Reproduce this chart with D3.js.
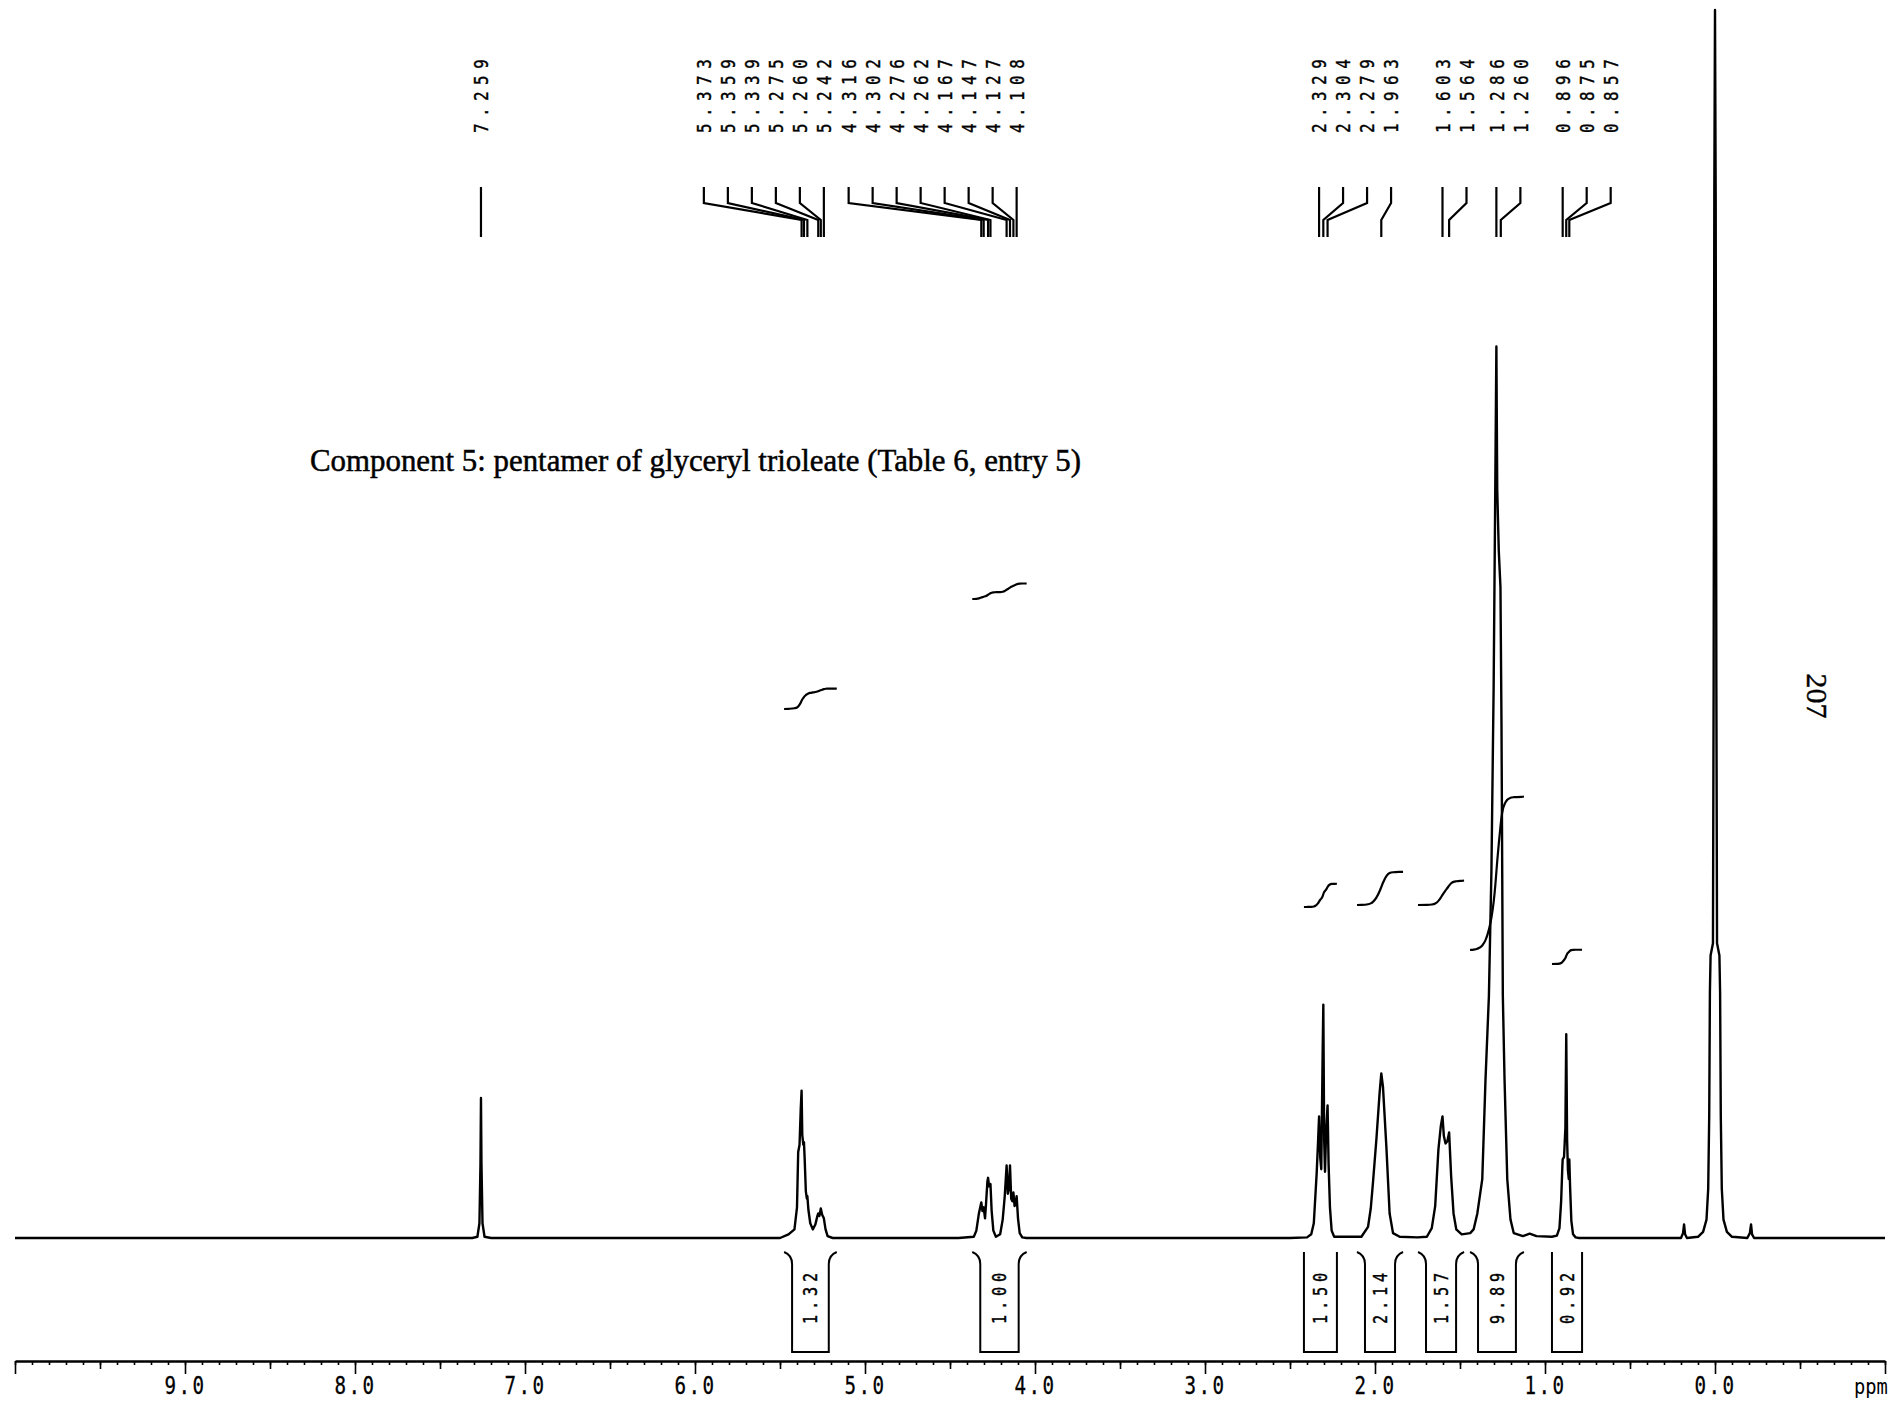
<!DOCTYPE html>
<html>
<head>
<meta charset="utf-8">
<script src="https://cdn.jsdelivr.net/npm/d3@7"></script>
<style>
  html, body { margin: 0; padding: 0; background: #fff; }
  svg { display: block; }
  .mono { font-family: "DejaVu Sans Mono", "Liberation Mono", monospace; fill: #000; }
</style>
</head>
<body>
<svg id="chart" width="1897" height="1402"></svg>
<script>
// 1H NMR spectrum (CDCl3), pentamer of glyceryl trioleate

const title = "Component 5: pentamer of glyceryl trioleate (Table 6, entry 5)";
const pageNumber = "207";
const axisUnit = "ppm";
const axisLabelValues = [9, 8, 7, 6, 5, 4, 3, 2, 1, 0];

// Spectrum trace: [chemical shift (ppm), relative intensity]
const spectrum = [
  [10.0, 0.0], [7.31, 0.0], [7.28, 0.1], [7.268, 1.2], [7.262, 6.0], [7.259, 11.4], [7.256, 6.0], [7.250, 1.2], [7.238, 0.1], [7.20, 0.0],
  [5.50, 0.0], [5.45, 0.3], [5.415, 0.7], [5.400, 2.5], [5.393, 7.0], [5.385, 7.6], [5.378, 10.5], [5.373, 12.0], [5.369, 8.4], [5.363, 7.6],
  [5.359, 7.8], [5.355, 6.5], [5.348, 3.8], [5.342, 3.2], [5.339, 3.4], [5.333, 2.3], [5.322, 1.2], [5.307, 0.7], [5.292, 1.1], [5.280, 1.8],
  [5.275, 2.0], [5.268, 1.8], [5.260, 2.4], [5.252, 1.9], [5.242, 1.6], [5.232, 0.7], [5.220, 0.15], [5.19, 0.0],
  [4.45, 0.0], [4.36, 0.1], [4.345, 0.6], [4.330, 2.0], [4.316, 2.9], [4.309, 2.2], [4.302, 2.5], [4.294, 1.6], [4.288, 2.8], [4.280, 4.6],
  [4.276, 4.9], [4.270, 4.2], [4.262, 4.4], [4.255, 2.2], [4.245, 0.6], [4.230, 0.1], [4.205, 0.3], [4.190, 1.5], [4.178, 3.4], [4.167, 5.9],
  [4.160, 3.6], [4.154, 4.0], [4.147, 5.9], [4.140, 3.2], [4.133, 3.0], [4.127, 3.7], [4.120, 2.6], [4.114, 2.8], [4.108, 3.4], [4.100, 1.6],
  [4.090, 0.4], [4.075, 0.05], [4.05, 0.0],
  [2.50, 0.0], [2.40, 0.05], [2.375, 0.3], [2.360, 1.2], [2.350, 3.6], [2.343, 5.3], [2.336, 7.5], [2.329, 9.9], [2.322, 6.5], [2.316, 5.6],
  [2.308, 15.0], [2.304, 19.0], [2.299, 8.0], [2.294, 5.4], [2.288, 8.5], [2.279, 10.8], [2.273, 6.0], [2.265, 2.5], [2.255, 0.6], [2.240, 0.1],
  [2.080, 0.1], [2.041, 0.9], [2.025, 2.4], [2.012, 4.5], [1.992, 8.0], [1.973, 11.8], [1.963, 13.4], [1.953, 12.3], [1.933, 7.4], [1.914, 2.0],
  [1.894, 0.4], [1.855, 0.1],
  [1.75, 0.05], [1.695, 0.1], [1.666, 0.8], [1.646, 2.6], [1.627, 7.2], [1.613, 9.1], [1.603, 9.9], [1.595, 8.3], [1.585, 7.7], [1.574, 7.9],
  [1.564, 8.6], [1.552, 5.0], [1.538, 2.0], [1.522, 0.7], [1.49, 0.3],
  [1.44, 0.4], [1.42, 0.7], [1.398, 2.0], [1.369, 4.8], [1.350, 12.9], [1.330, 19.7], [1.315, 30.0], [1.302, 45.0], [1.292, 62.0], [1.286, 72.6],
  [1.281, 61.0], [1.272, 56.0], [1.262, 53.0], [1.256, 42.0], [1.248, 19.7], [1.238, 12.9], [1.222, 4.8], [1.203, 1.5], [1.184, 0.4], [1.13, 0.15],
  [1.09, 0.35], [1.05, 0.15], [0.96, 0.1],
  [0.930, 0.2], [0.915, 0.8], [0.905, 3.0], [0.898, 5.8], [0.896, 6.4], [0.888, 6.6], [0.880, 9.0], [0.875, 16.6], [0.870, 8.0], [0.865, 5.5],
  [0.860, 4.8], [0.857, 6.4], [0.852, 4.0], [0.845, 1.4], [0.835, 0.3], [0.820, 0.05], [0.80, 0.0],
  [0.20, 0.0], [0.188, 0.4], [0.182, 1.1], [0.176, 0.3], [0.165, 0.0],
  [0.10, 0.1], [0.070, 0.5], [0.050, 1.5], [0.040, 4.0], [0.034, 10.0], [0.030, 20.0], [0.026, 23.0], [0.012, 24.0], [0.008, 45.0], [0.004, 85.0],
  [0.0, 100.0], [-0.004, 85.0], [-0.008, 45.0], [-0.012, 24.0], [-0.026, 23.0], [-0.030, 20.0], [-0.034, 10.0], [-0.040, 4.0], [-0.050, 1.5],
  [-0.070, 0.5], [-0.10, 0.1],
  [-0.19, 0.0], [-0.205, 0.4], [-0.212, 1.1], [-0.218, 0.3], [-0.23, 0.0],
  [-1.0, 0.0]
];

// Picked peaks (ppm)
const peakLabels = [7.259, 5.373, 5.359, 5.339, 5.275, 5.260, 5.242, 4.316, 4.302, 4.276, 4.262, 4.167, 4.147, 4.127, 4.108,
                    2.329, 2.304, 2.279, 1.963, 1.603, 1.564, 1.286, 1.260, 0.896, 0.875, 0.857];

// Integral regions (ppm, from -> to) and their integral values
const integralRanges = [[5.476, 5.166], [4.369, 4.049], [2.418, 2.224], [2.106, 1.835], [1.747, 1.476], [1.441, 1.124], [0.959, 0.782]];
const integralValues = [1.32, 1.00, 1.50, 2.14, 1.57, 9.89, 0.92];

// ---------- layout ----------
const W = 1897, H = 1402;
const AXIS_Y = 1361;
const INTEGRAL_BASE_Y = [709, 599, 907, 905, 905, 950, 964];   // vertical offset of each integral trace
const INTEGRAL_PX_PER_UNIT = 15.5;
const BRACKET_HOOK = [true, true, false, true, true, true, false];
const BRACKET_TOP = 1252, BRACKET_BOTTOM = 1352, BRACKET_LABEL_Y = 1296;
const LABEL_GAP = 24, LABEL_BASE_Y = 133;
const LINK_TOP = 187, LINK_KNEE = 203, LINK_FOOT = 220, LINK_BOTTOM = 237;

const svg = d3.select("#chart");
const x = d3.scaleLinear().domain([10, -1]).range([15, 1885]);
const y = d3.scaleLinear().domain([0, 100]).range([1238, 10]);

// ---------- spectrum ----------
svg.append("path")
  .datum(spectrum)
  .attr("d", d3.line().x(d => x(d[0])).y(d => y(d[1])))
  .attr("fill", "none")
  .attr("stroke", "#000")
  .attr("stroke-width", 2.4)
  .attr("stroke-linejoin", "round");

// ---------- peak labels with connectors ----------
function layoutPeakLabels() {
  const out = [];
  // left block spreads leftwards from its right-most peak, right block spreads rightwards
  const high = peakLabels.filter(p => p > 3).sort((a, b) => a - b);
  const low = peakLabels.filter(p => p <= 3).sort((a, b) => b - a);
  let prev = Infinity;
  high.forEach(p => { const px = x(p); const c = Math.min(px, prev - LABEL_GAP); out.push({ p, px, c }); prev = c; });
  prev = -Infinity;
  low.forEach(p => { const px = x(p); const c = Math.max(px, prev + LABEL_GAP); out.push({ p, px, c }); prev = c; });
  return out;
}
const labels = layoutPeakLabels();
const gLab = svg.append("g");
gLab.selectAll("path").data(labels).join("path")
  .attr("d", d => Math.abs(d.c - d.px) < 0.6
    ? `M${d.c},${LINK_TOP}V${LINK_BOTTOM}`
    : `M${d.c},${LINK_TOP}V${LINK_KNEE}L${d.px},${LINK_FOOT}V${LINK_BOTTOM}`)
  .attr("fill", "none").attr("stroke", "#000").attr("stroke-width", 2.2);
gLab.selectAll("text").data(labels).join("text")
  .attr("class", "mono")
  .attr("transform", d => `translate(${d.c},${LABEL_BASE_Y}) rotate(-90) scale(0.8,1)`)
  .attr("dy", "0.36em")
  .attr("font-size", 20)
  .attr("letter-spacing", 8)
  .attr("stroke", "#000").attr("stroke-width", 0.4)
  .text(d => d3.format(".3f")(d.p));

// ---------- integral traces ----------
function intensityAt(p) {
  for (let i = 0; i < spectrum.length - 1; i++) {
    const [p0, h0] = spectrum[i], [p1, h1] = spectrum[i + 1];
    if (p <= p0 && p >= p1) return p0 === p1 ? h0 : h0 + (h1 - h0) * (p0 - p) / (p0 - p1);
  }
  return 0;
}
function integralPoints(range, baseY, value) {
  const [a, b] = range;
  const pts = [[a, intensityAt(a)], ...spectrum.filter(d => d[0] < a && d[0] > b), [b, intensityAt(b)]];
  const cum = [0];
  for (let i = 1; i < pts.length; i++) {
    cum.push(cum[i - 1] + (pts[i - 1][0] - pts[i][0]) * (pts[i - 1][1] + pts[i][1]) / 2);
  }
  const total = cum[cum.length - 1];
  const rise = value * INTEGRAL_PX_PER_UNIT;
  return pts.map((d, i) => [x(d[0]), baseY - rise * cum[i] / total]);
}
const intLine = d3.line().curve(d3.curveMonotoneX);
svg.append("g").selectAll("path")
  .data(integralRanges.map((r, i) => integralPoints(r, INTEGRAL_BASE_Y[i], integralValues[i])))
  .join("path")
  .attr("d", d => intLine(d))
  .attr("fill", "none").attr("stroke", "#000").attr("stroke-width", 2.2);

// ---------- integral brackets and values ----------
const gBr = svg.append("g");
integralRanges.forEach((r, i) => {
  const xa = x(r[0]), xb = x(r[1]);
  const ins = BRACKET_HOOK[i] ? 8 : 0;
  const la = xa + ins, lb = xb - ins;
  let d;
  if (BRACKET_HOOK[i]) {
    d = `M${xa},${BRACKET_TOP}C${xa + 5},${BRACKET_TOP + 2} ${la},${BRACKET_TOP + 5} ${la},${BRACKET_TOP + 12}` +
        `V${BRACKET_BOTTOM}H${lb}V${BRACKET_TOP + 12}C${lb},${BRACKET_TOP + 5} ${xb - 5},${BRACKET_TOP + 2} ${xb},${BRACKET_TOP}`;
  } else {
    d = `M${la},${BRACKET_TOP}V${BRACKET_BOTTOM}H${lb}V${BRACKET_TOP}`;
  }
  gBr.append("path").attr("d", d).attr("fill", "none").attr("stroke", "#000").attr("stroke-width", 2);
  gBr.append("text")
    .attr("class", "mono")
    .attr("transform", `translate(${(la + lb) / 2},${BRACKET_LABEL_Y}) rotate(-90) scale(0.8,1)`)
    .attr("text-anchor", "middle")
    .attr("dy", "0.36em")
    .attr("font-size", 19)
    .attr("letter-spacing", 6)
    .attr("stroke", "#000").attr("stroke-width", 0.4)
    .text(d3.format(".2f")(integralValues[i]));
});

// ---------- ppm axis ----------
const minorTicks = d3.range(-10, 101).map(d => d / 10);
const halfTicks = d3.range(-1, 20).map(d => d / 2).filter(d => d % 1 !== 0);
const majorTicks = d3.range(-1, 11);

const gMinor = svg.append("g").attr("transform", `translate(0,${AXIS_Y})`)
  .call(d3.axisBottom(x).tickValues(minorTicks).tickSize(4).tickSizeOuter(0).tickFormat(""));
gMinor.select(".domain").remove();
const gHalf = svg.append("g").attr("transform", `translate(0,${AXIS_Y})`)
  .call(d3.axisBottom(x).tickValues(halfTicks).tickSize(8).tickSizeOuter(0).tickFormat(""));
gHalf.select(".domain").remove();
const gMajor = svg.append("g").attr("transform", `translate(0,${AXIS_Y})`)
  .call(d3.axisBottom(x).tickValues(majorTicks).tickSize(13).tickSizeOuter(0).tickPadding(3)
    .tickFormat(d => axisLabelValues.includes(d) ? d3.format(".1f")(d) : ""));
svg.selectAll(".tick line").attr("stroke", "#000").attr("stroke-width", 1.6);
gMajor.select(".domain").attr("stroke", "#000").attr("stroke-width", 2.4);
gMajor.selectAll(".tick text")
  .attr("class", "mono")
  .attr("font-family", null)
  .attr("font-size", 24)
  .attr("letter-spacing", 3)
  .attr("fill", "#000")
  .attr("stroke", "#000").attr("stroke-width", 0.3)
  .attr("transform", "scale(0.8,1)");

svg.append("text")
  .attr("class", "mono")
  .attr("x", 1871).attr("y", 1394)
  .attr("text-anchor", "middle")
  .attr("font-size", 22)
  .attr("transform", "translate(1871,0) scale(0.85,1) translate(-1871,0)")
  .text(axisUnit);

// ---------- caption and page number ----------
svg.append("text")
  .attr("x", 310).attr("y", 471)
  .attr("font-family", "'Liberation Serif', 'Times New Roman', serif")
  .attr("font-size", 32)
  .attr("textLength", 771)
  .attr("lengthAdjust", "spacingAndGlyphs")
  .attr("fill", "#000")
  .attr("stroke", "#000").attr("stroke-width", 0.5)
  .text(title);

svg.append("text")
  .attr("transform", "translate(1817,696) rotate(90)")
  .attr("text-anchor", "middle")
  .attr("dy", "0.35em")
  .attr("font-family", "'Liberation Serif', 'Times New Roman', serif")
  .attr("font-size", 30)
  .attr("fill", "#000")
  .attr("stroke", "#000").attr("stroke-width", 0.4)
  .text(pageNumber);
</script>
</body>
</html>
